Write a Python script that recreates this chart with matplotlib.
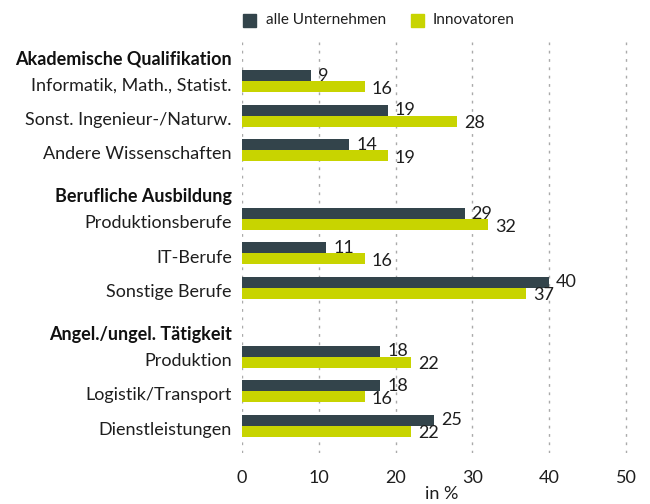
import matplotlib.pyplot as plt

# Anteile in Prozent, je Gruppe drei Tätigkeitsfelder
groups = ["Akademische Qualifikation", "Berufliche Ausbildung", "Angel./ungel. Tätigkeit"]
categories = [
    ["Informatik, Math., Statist.", "Sonst. Ingenieur-/Naturw.", "Andere Wissenschaften"],
    ["Produktionsberufe", "IT-Berufe", "Sonstige Berufe"],
    ["Produktion", "Logistik/Transport", "Dienstleistungen"],
]
alle = [9, 19, 14, 29, 11, 40, 18, 18, 25]
innovatoren = [16, 28, 19, 32, 16, 37, 22, 16, 22]
xticks = [0, 10, 20, 30, 40, 50]

DARK = "#33444b"
LIME = "#c8d400"
TXT = "#1e1e1e"
FS = 13
plt.rcParams["font.family"] = ["Lato", "DejaVu Sans"]

fig = plt.figure(figsize=(6.5, 5.04), dpi=100)
ax = fig.add_axes([0.372, 0.101, 0.615, 0.816])

# Zeilenpositionen: vor jeder Gruppe eine Kopfzeile
rows = []
labels = []
header_pos = []
pos = 0
for g, cats in zip(groups, categories):
    header_pos.append(pos + 0.35)
    for c in cats:
        pos += 1
        rows.append(pos)
        labels.append(c)
    pos += 1

h = 0.32
ax.barh([r - h / 2 for r in rows], alle, height=h, color=DARK, zorder=2)
ax.barh([r + h / 2 for r in rows], innovatoren, height=h, color=LIME, zorder=2)

for r, a, i in zip(rows, alle, innovatoren):
    ax.text(a + 0.9, r - h / 2 + 0.0, str(a), va="center", ha="left", fontsize=FS, color=TXT)
    ax.text(i + 0.9, r + h / 2 + 0.06, str(i), va="center", ha="left", fontsize=FS, color=TXT)

# Kategorien rechtsbündig links der Achse
for r, lab in zip(rows, labels):
    ax.text(-1.3, r + 0.12, lab, va="center", ha="right", fontsize=FS, color=TXT)
for hp, g in zip(header_pos, groups):
    ax.text(-1.3, hp, g, va="center", ha="right", fontsize=FS, fontweight="bold", color="#111111")

ax.set_xlim(0, 52)
ax.set_ylim(11.8, -0.15)
ax.set_xticks(xticks)
ax.set_xticklabels([str(t) for t in xticks], fontsize=FS, color=TXT)
ax.set_yticks([])
ax.tick_params(axis="x", length=0, pad=12)
for x in xticks:
    ax.axvline(x, color="#aaaaaa", lw=1, linestyle=(0, (2, 4)), zorder=1)
for s in ax.spines.values():
    s.set_visible(False)
ax.set_xlabel("in %", fontsize=FS, color=TXT, labelpad=0)

# Legende oben
fig.patches.append(plt.Rectangle((243 / 650, 1 - 27 / 504), 13 / 650, 13 / 504,
                                 transform=fig.transFigure, color=DARK))
fig.text(266 / 650, 1 - 20 / 504, "alle Unternehmen", va="center", ha="left", fontsize=11, color=TXT)
fig.patches.append(plt.Rectangle((411 / 650, 1 - 27 / 504), 13 / 650, 13 / 504,
                                 transform=fig.transFigure, color=LIME))
fig.text(433 / 650, 1 - 20 / 504, "Innovatoren", va="center", ha="left", fontsize=11, color=TXT)

fig.savefig("out.png", dpi=100)
